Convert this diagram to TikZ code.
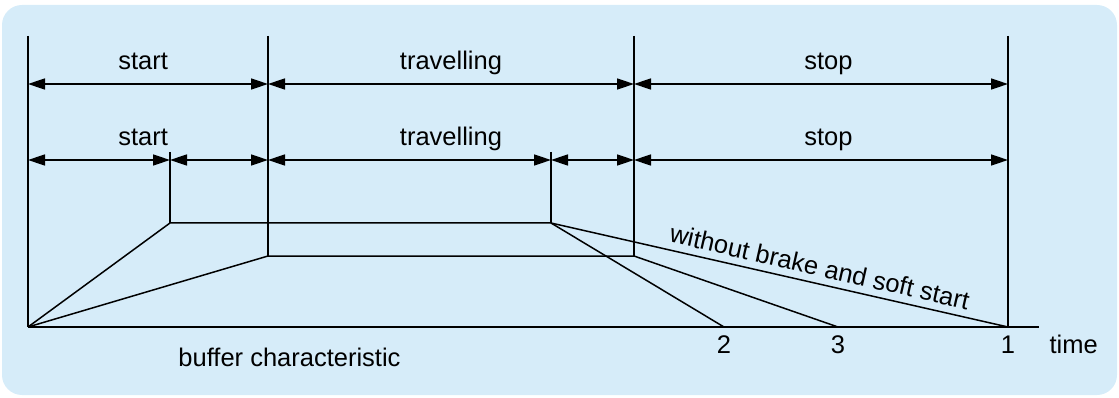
\documentclass[tikz,border=0pt]{standalone}
\usepackage{fontspec}
\setmainfont{Liberation Sans}
\usetikzlibrary{arrows.meta}
\usetikzlibrary{positioning}
\definecolor{panel}{RGB}{214,236,249}
\tikzstyle{phase} = [above=13.5pt, inner sep=0pt, text height=18pt, text depth=0pt]
\tikzstyle{ticklabel} = [inner sep=0pt, text height=18pt, text depth=0pt]
\tikzstyle{note} = [sloped, above=7pt, inner sep=0pt, text depth=0pt]

\begin{document}
\begin{tikzpicture}[x=1pt, y=-1pt, line width=1.5pt, >={Triangle[length=17pt, width=11pt]}, font=\fontsize{25.5pt}{30pt}\selectfont]
    % Panel
    \useasboundingbox (0,0) rectangle (1119,398);
    \fill [panel, rounded corners=20pt] (2,5) rectangle (1117,395);

    % Placing the points
    \coordinate (o) at (28,327);
    \coordinate (a0) at (28,36);
    \coordinate (b0) at (268,36);
    \coordinate (b1) at (268,256);
    \coordinate (c0) at (634,36);
    \coordinate (c1) at (634,256);
    \coordinate (d0) at (1008,36);
    \coordinate (e1) at (1008,327);
    \coordinate (s0) at (170,152);
    \coordinate (s1) at (170,223);
    \coordinate (r0) at (551,152);
    \coordinate (r1) at (551,223);
    \coordinate (e2) at (724,327);
    \coordinate (e3) at (838,327);
    \coordinate (tend) at (1039,327);
    \coordinate (row1) at (0,84);
    \coordinate (row2) at (0,160);

    % Frame lines
    \draw (a0) -- (o);
    \draw (b0) -- (b1);
    \draw (c0) -- (c1);
    \draw (d0) -- (e1);
    \draw (s0) -- (s1);
    \draw (r0) -- (r1);
    \draw (o) -- (tend);

    % Phase arrows
    \draw [<->] (a0 |- row1) -- node [phase, pos=.48] {start} (b0 |- row1);
    \draw [<->] (b0 |- row1) -- node [phase] {travelling} (c0 |- row1);
    \draw [<->] (c0 |- row1) -- node [phase, pos=.52] {stop} (d0 |- row1);
    \draw [<->] (a0 |- row2) -- (s0 |- row2);
    \draw [<->] (s0 |- row2) -- (b0 |- row2);
    \draw [<->] (b0 |- row2) -- (r0 |- row2);
    \draw [<->] (r0 |- row2) -- (c0 |- row2);
    \draw [<->] (c0 |- row2) -- (d0 |- row2);
    \path (a0 |- row2) -- node [phase, pos=.48] {start} (b0 |- row2)
          -- node [phase] {travelling} (c0 |- row2)
          -- node [phase, pos=.52] {stop} (d0 |- row2);

    % Speed curves
    \draw (o) -- (s1) -- (r1) -- (e2);
    \draw (o) -- (b1) -- (c1) -- (e3);
    \draw (r1) -- node [note, pos=.58] {without brake and soft start} (e1);

    % Labels
    \node [ticklabel, below=8pt of e2] (n2) {2};
    \node [ticklabel, below=8pt of e3] (n3) {3};
    \node [ticklabel, below=8pt of e1] (n1) {1};
    \node [ticklabel, right=33pt of n1] (time) {time};
    \node [anchor=base] (buffer) at (289.5,366) {buffer characteristic};
\end{tikzpicture}
\end{document}
